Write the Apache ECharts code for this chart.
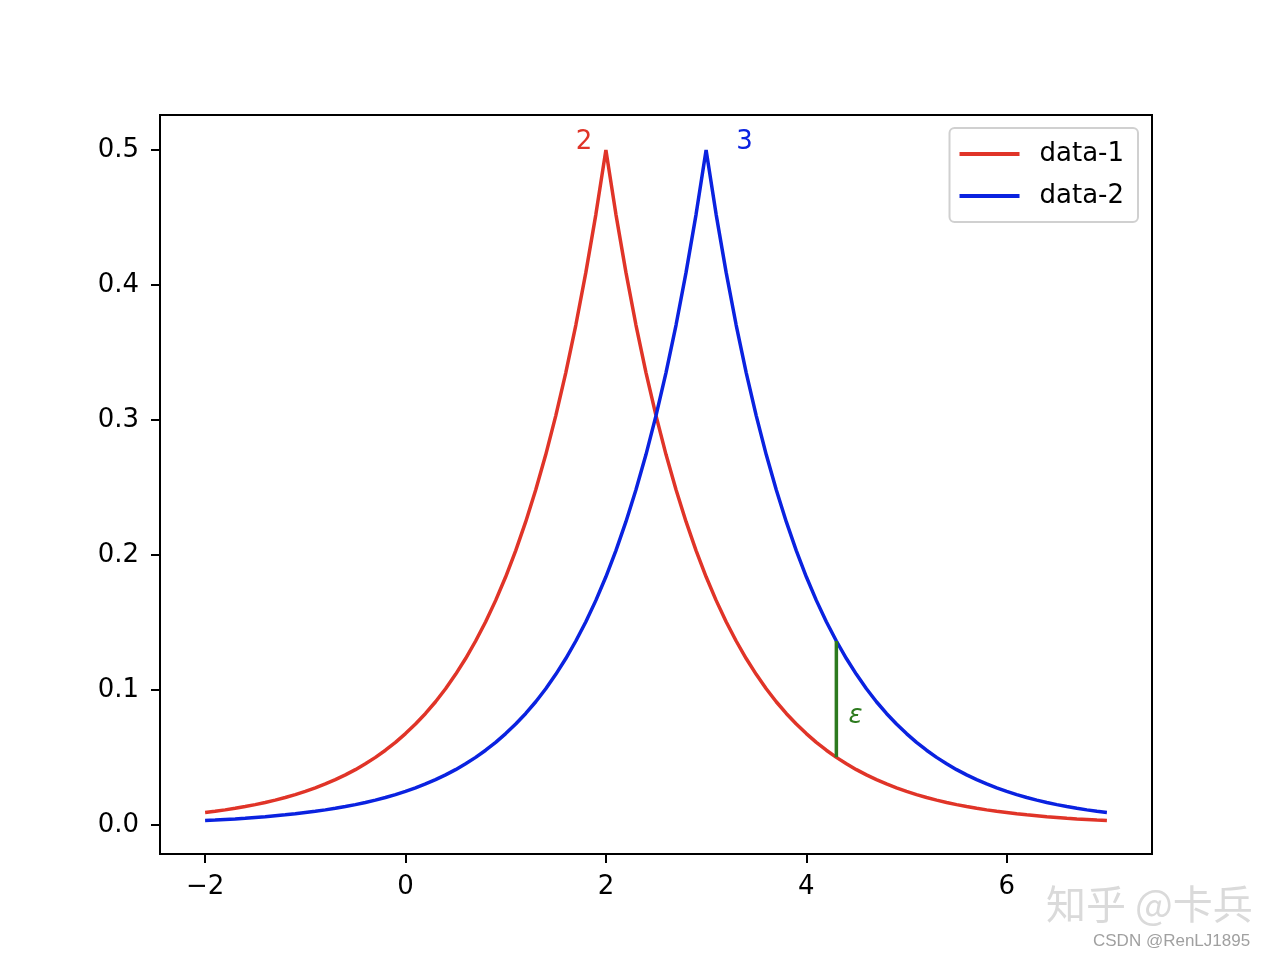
<!DOCTYPE html>
<html>
<head>
<meta charset="utf-8">
<script src="https://cdn.jsdelivr.net/npm/echarts@6/dist/echarts.min.js"></script>
<style>html,body{margin:0;padding:0;background:#fff}#c{width:1280px;height:960px}</style>
</head>
<body>
<div id="c"></div>
<script>
var xValues = [-2.0,-1.9,-1.8,-1.7,-1.6,-1.5,-1.4,-1.3,-1.2,-1.1,-1.0,-0.9,-0.8,-0.7,-0.6,-0.5,-0.4,-0.3,-0.2,-0.1,
  0.0,0.1,0.2,0.3,0.4,0.5,0.6,0.7,0.8,0.9,1.0,1.1,1.2,1.3,1.4,1.5,1.6,1.7,1.8,1.9,
  2.0,2.1,2.2,2.3,2.4,2.5,2.6,2.7,2.8,2.9,3.0,3.1,3.2,3.3,3.4,3.5,3.6,3.7,3.8,3.9,
  4.0,4.1,4.2,4.3,4.4,4.5,4.6,4.7,4.8,4.9,5.0,5.1,5.2,5.3,5.4,5.5,5.6,5.7,5.8,5.9,
  6.0,6.1,6.2,6.3,6.4,6.5,6.6,6.7,6.8,6.9,7.0];
var data1 = [0.0092,0.0101,0.0112,0.0124,0.0137,0.0151,0.0167,0.0184,0.0204,0.0225,
  0.0249,0.0275,0.0304,0.0336,0.0371,0.0410,0.0454,0.0501,0.0554,0.0612,
  0.0677,0.0748,0.0826,0.0913,0.1009,0.1116,0.1233,0.1363,0.1506,0.1664,
  0.1839,0.2033,0.2247,0.2483,0.2744,0.3033,0.3352,0.3704,0.4094,0.4524,
  0.5000,0.4524,0.4094,0.3704,0.3352,0.3033,0.2744,0.2483,0.2247,0.2033,
  0.1839,0.1664,0.1506,0.1363,0.1233,0.1116,0.1009,0.0913,0.0826,0.0748,
  0.0677,0.0612,0.0554,0.0501,0.0454,0.0410,0.0371,0.0336,0.0304,0.0275,
  0.0249,0.0225,0.0204,0.0184,0.0167,0.0151,0.0137,0.0124,0.0112,0.0101,
  0.0092,0.0083,0.0075,0.0068,0.0061,0.0056,0.0050,0.0045,0.0041,0.0037,0.0034];
var data2 = [0.0034,0.0037,0.0041,0.0045,0.0050,0.0056,0.0061,0.0068,0.0075,0.0083,
  0.0092,0.0101,0.0112,0.0124,0.0137,0.0151,0.0167,0.0184,0.0204,0.0225,
  0.0249,0.0275,0.0304,0.0336,0.0371,0.0410,0.0454,0.0501,0.0554,0.0612,
  0.0677,0.0748,0.0826,0.0913,0.1009,0.1116,0.1233,0.1363,0.1506,0.1664,
  0.1839,0.2033,0.2247,0.2483,0.2744,0.3033,0.3352,0.3704,0.4094,0.4524,
  0.5000,0.4524,0.4094,0.3704,0.3352,0.3033,0.2744,0.2483,0.2247,0.2033,
  0.1839,0.1664,0.1506,0.1363,0.1233,0.1116,0.1009,0.0913,0.0826,0.0748,
  0.0677,0.0612,0.0554,0.0501,0.0454,0.0410,0.0371,0.0336,0.0304,0.0275,
  0.0249,0.0225,0.0204,0.0184,0.0167,0.0151,0.0137,0.0124,0.0112,0.0101,0.0092];
var xTicks = [-2, 0, 2, 4, 6];
var yTicks = [0, 0.1, 0.2, 0.3, 0.4, 0.5];
var epsSegment = [[4.3, 0.0501], [4.3, 0.1363]];
var annotations = [
  {name: '2', value: [1.7, 0.5], color: '#e03428'},
  {name: '3', value: [3.3, 0.5], color: '#0a22e0'}
];
var epsLabel = {name: 'ε', value: [4.42, 0.0745], color: '#2d7a1e'};

var RED = '#e03428', BLUE = '#0a22e0', GREEN = '#2d7a1e';
var FONT = 'DejaVu Sans';

function pairs(xs, ys) { return xs.map(function (x, i) { return [x, ys[i]]; }); }

var chart = echarts.init(document.getElementById('c'), null, {renderer: 'canvas'});
chart.setOption({
  animation: false,
  backgroundColor: '#ffffff',
  grid: {left: 160, right: 128, top: 115, bottom: 106, show: true, borderColor: '#000', borderWidth: 2, backgroundColor: 'transparent'},
  xAxis: {
    type: 'value', min: -2.45, max: 7.45,
    splitLine: {show: false},
    axisLine: {show: true, onZero: false, lineStyle: {color: '#000', width: 2}},
    axisTick: {show: true, customValues: xTicks, length: 9, lineStyle: {color: '#000', width: 2}},
    axisLabel: {customValues: xTicks, color: '#000', fontFamily: FONT, fontSize: 26, margin: 20,
      formatter: function (v) { return v < 0 ? '\u2212' + Math.abs(v) : String(v); }}
  },
  yAxis: {
    type: 'value', min: -0.0215, max: 0.526,
    splitLine: {show: false},
    axisLine: {show: true, onZero: false, lineStyle: {color: '#000', width: 2}},
    axisTick: {show: true, customValues: yTicks, length: 9, lineStyle: {color: '#000', width: 2}},
    axisLabel: {customValues: yTicks, color: '#000', fontFamily: FONT, fontSize: 26, margin: 21,
      formatter: function (v) { return v.toFixed(1); }}
  },
  legend: {
    data: ['data-1', 'data-2'],
    orient: 'vertical', right: 142, top: 128,
    padding: [12, 14, 12, 10],
    backgroundColor: 'rgba(255,255,255,0.8)',
    borderColor: '#d0d0d0', borderWidth: 2, borderRadius: 5,
    itemWidth: 60, itemHeight: 4, itemGap: 14,
    icon: 'rect',
    textStyle: {fontFamily: FONT, fontSize: 26, color: '#000', lineHeight: 28, padding: [0, 0, 0, 15]}
  },
  series: [
    {name: 'data-1', type: 'line', data: pairs(xValues, data1), showSymbol: false, symbol: 'none',
      lineStyle: {color: RED, width: 3.5}, itemStyle: {color: RED}, z: 3},
    {name: 'data-2', type: 'line', data: pairs(xValues, data2), showSymbol: false, symbol: 'none',
      lineStyle: {color: BLUE, width: 3.5}, itemStyle: {color: BLUE}, z: 3},
    {name: 'eps', type: 'line', data: epsSegment, showSymbol: false, symbol: 'none',
      lineStyle: {color: GREEN, width: 3.5}, z: 4},
    {name: 'labels', type: 'scatter', symbolSize: 0, z: 5, itemStyle: {opacity: 1},
      data: annotations.concat([epsLabel]).map(function (a) {
        return {name: a.name, value: a.value,
          label: {show: true, formatter: a.name, position: [0, 0], align: 'left', verticalAlign: 'bottom',
            color: a.color, opacity: 1, fontFamily: FONT, fontSize: 26,
            fontStyle: a.name === 'ε' ? 'italic' : 'normal', padding: [0, 0, -5, 0]}};
      })}
  ],
  graphic: [
    {type: 'text', left: 1046, top: 884, z: 10,
      style: {text: '知乎 @卡兵', fontFamily: 'Noto Sans CJK SC', fontSize: 40, fill: '#dadada',
        shadowColor: 'rgba(0,0,0,0.45)', shadowOffsetX: 1, shadowOffsetY: 1, shadowBlur: 0}},
    {type: 'text', left: 1093, top: 933, z: 10,
      style: {text: 'CSDN @RenLJ1895', fontFamily: 'Liberation Sans', fontSize: 17, fill: '#a0a0a0'}}
  ]
});
</script>
</body>
</html>
